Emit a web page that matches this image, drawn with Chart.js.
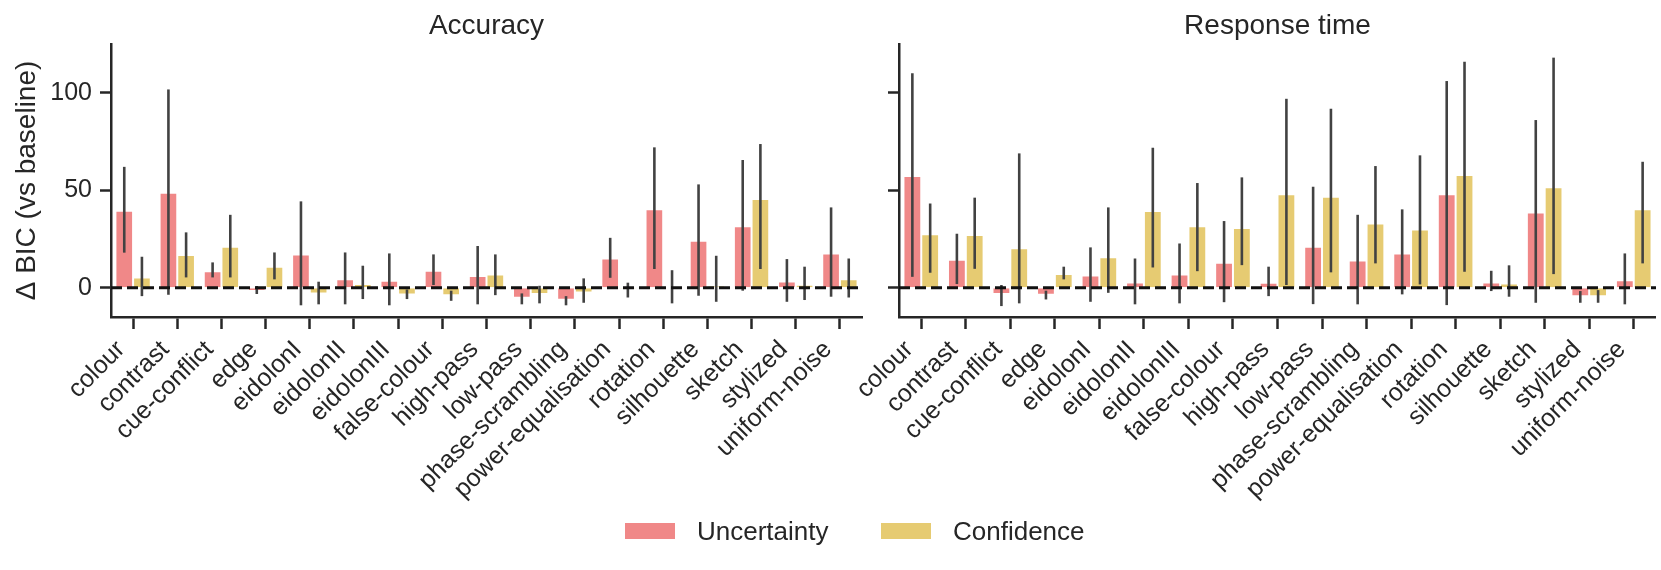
<!DOCTYPE html>
<html>
<head>
<meta charset="utf-8">
<script src="https://cdn.jsdelivr.net/npm/chart.js@4.4.1/dist/chart.umd.min.js"></script>
<style>
  body { margin: 0; background: #fff; }
  #wrap { position: relative; width: 1661px; height: 570px; font-family: "Liberation Sans", Arial, sans-serif; color: #262626; }
  #acc-box { position: absolute; left: 0; top: 0; width: 880px; height: 570px; }
  #rt-box { position: absolute; left: 830px; top: 0; width: 831px; height: 570px; }
  .swatch { position: absolute; top: 523px; width: 50px; height: 16px; }
  .leg-text { position: absolute; top: 518px; font-size: 26px; line-height: 26px; white-space: nowrap; }
</style>
</head>
<body>
<div id="wrap">
  <div id="acc-box"><canvas id="acc"></canvas></div>
  <div id="rt-box"><canvas id="rt"></canvas></div>
  <div class="swatch" style="left:625px; background:#f08888;"></div>
  <div class="leg-text" style="left:697px;">Uncertainty</div>
  <div class="swatch" style="left:881px; background:#e6cb72;"></div>
  <div class="leg-text" style="left:953px;">Confidence</div>
</div>
<script>
// categories (same for both panels)
const categories = ['colour', 'contrast', 'cue-conflict', 'edge', 'eidolonI', 'eidolonII', 'eidolonIII',
    'false-colour', 'high-pass', 'low-pass', 'phase-scrambling', 'power-equalisation', 'rotation',
    'silhouette', 'sketch', 'stylized', 'uniform-noise'];

// Accuracy panel
const accUncertainty = [39.5, 48.7, 8.5, -1.7, 17.1, 4.3, 3.6, 8.7, 6, -5.1, -6.2, 15, 40.2, 24.1, 31.5, 3.2, 17.6];
const accUncertaintyCI = [[18, 62], [-3.6, 101.7], [5.3, 13], [-3.2, 0.9], [-9, 44.3], [-8.5, 18.1], [-9, 17.6],
    [1.4, 17.1], [-8.5, 21.4], [-8.5, -2.9], [-9, -4.3], [5.1, 25.6], [9.6, 72], [-4.1, 53], [-1.5, 65.5],
    [-7.2, 14.7], [-4.6, 41.2]];
const accConfidence = [5.3, 16.8, 21, 10.8, -2.9, 1.9, -3.4, -3.8, 6.8, -3.2, -2.4, -0.5, 0.3, 0.9, 45.5, 1.5, 4.4];
const accConfidenceCI = [[-4.3, 15.9], [5.3, 28.4], [5.3, 37.4], [4.3, 18.1], [-8.5, 3.1], [-5.8, 11.3], [-5.8, -0.9],
    [-6.7, -1.5], [-3.8, 17.1], [-8, 1], [-7.7, 4.8], [-5, 2.6], [-8, 9], [-7.2, 16.4], [9.6, 73.7],
    [-6.3, 10.8], [-5, 15]];

// Response time panel
const rtUncertainty = [57.3, 14.4, -3.2, -3.6, 6.3, 2.7, 6.8, 12.8, 2.6, 21, 14, 17.6, 48, 2.7, 38.6, -4.3, 3.9];
const rtUncertaintyCI = [[5.6, 110], [1.9, 27.7], [-9.4, 1.4], [-6, -1.5], [-7.2, 20.7], [-8.5, 15], [-8, 22.7],
    [-7.4, 34.2], [-4.3, 10.8], [-8.4, 51.8], [-8.5, 37.4], [-3.4, 40.2], [-8.9, 106], [-1.7, 8.7], [-7.7, 86],
    [-7.7, -1.7], [-8.5, 17.6]];
const rtConfidence = [27.4, 27, 20.2, 7, 15.7, 39.3, 31.6, 30.6, 48, 46.7, 33, 29.9, 57.8, 2.2, 51.5, -4.3, 40.3];
const rtConfidenceCI = [[7.7, 43.2], [9.7, 46.2], [-8, 68.9], [4.3, 10.8], [-2.6, 41.2], [10.4, 71.8], [8.5, 53.7],
    [11.6, 56.6], [1.4, 96.9], [7.9, 91.8], [12.5, 62.4], [1.7, 67.9], [8.2, 115.9], [-4.6, 11.5], [7, 118],
    [-7.7, -1.2], [12.5, 64.6]];

const yTicks = [0, 50, 100];
const FONT = '"Liberation Sans", Arial, sans-serif';
const INK = '#262626';

Chart.defaults.font.family = FONT;
Chart.defaults.color = INK;

// error bars, dashed zero line and panel title
const extras = {
    id: 'extras',
    afterDatasetsDraw(chart) {
        const ctx = chart.ctx;
        const y = chart.scales.y;
        const area = chart.chartArea;
        ctx.save();
        ctx.strokeStyle = '#424242';
        ctx.lineWidth = 2.6;
        chart.data.datasets.forEach((ds, i) => {
            chart.getDatasetMeta(i).data.forEach((bar, j) => {
                const ci = ds.ci[j];
                ctx.beginPath();
                ctx.moveTo(bar.x, y.getPixelForValue(ci[0]));
                ctx.lineTo(bar.x, y.getPixelForValue(ci[1]));
                ctx.stroke();
            });
        });
        // zero line
        const y0 = y.getPixelForValue(0);
        ctx.strokeStyle = '#111';
        ctx.lineWidth = 3;
        ctx.setLineDash([11, 5]);
        ctx.beginPath();
        ctx.moveTo(area.left, y0);
        ctx.lineTo(area.right, y0);
        ctx.stroke();
        ctx.restore();
    },
    afterDraw(chart, args, opts) {
        const ctx = chart.ctx;
        const area = chart.chartArea;
        ctx.save();
        ctx.font = '28px ' + FONT;
        ctx.fillStyle = INK;
        ctx.textAlign = 'center';
        ctx.textBaseline = 'alphabetic';
        ctx.fillText(opts.text, (area.left + area.right) / 2, 34);
        ctx.restore();
    }
};

function makePanel(id, title, uVals, uCI, cVals, cCI, showLabels, yWidth, padRight) {
    return new Chart(document.getElementById(id), {
        type: 'bar',
        data: {
            labels: categories,
            datasets: [
                { label: 'Uncertainty', data: uVals, ci: uCI, backgroundColor: '#f08888',
                  borderColor: '#ffffff', borderWidth: 1 },
                { label: 'Confidence', data: cVals, ci: cCI, backgroundColor: '#e6cb72',
                  borderColor: '#ffffff', borderWidth: 1 }
            ]
        },
        options: {
            responsive: true,
            maintainAspectRatio: false,
            animation: false,
            layout: { padding: { top: 44, right: padRight, bottom: 0, left: 0 } },
            datasets: { bar: { categoryPercentage: 0.8, barPercentage: 1.0 } },
            plugins: {
                legend: { display: false },
                tooltip: { enabled: false },
                extras: { text: title }
            },
            scales: {
                x: {
                    grid: { drawOnChartArea: false, offset: false, tickLength: 12, tickWidth: 2.5, tickColor: INK },
                    border: { display: true, width: 2.5, color: INK },
                    ticks: { autoSkip: false, minRotation: 45, maxRotation: 45, padding: 6, labelOffset: -12,
                             font: { size: 25 }, color: INK },
                    afterFit(scale) { scale.height = 253; }
                },
                y: {
                    min: -15,
                    max: 125,
                    afterBuildTicks(scale) { scale.ticks = yTicks.map(v => ({ value: v })); },
                    grid: { drawOnChartArea: false, tickLength: 11, tickWidth: 2.5, tickColor: INK },
                    border: { display: true, width: 2.5, color: INK },
                    ticks: { display: showLabels, padding: 8, font: { size: 25 }, color: INK },
                    title: { display: showLabels, text: 'Δ BIC (vs baseline)', font: { size: 28 },
                             color: INK, padding: { top: 10, bottom: 0 } },
                    afterFit(scale) { scale.width = yWidth; }
                }
            }
        },
        plugins: [extras]
    });
}

makePanel('acc', 'Accuracy', accUncertainty, accUncertaintyCI, accConfidence, accConfidenceCI, true, 111, 18);
makePanel('rt', 'Response time', rtUncertainty, rtUncertaintyCI, rtConfidence, rtConfidenceCI, false, 69, 2);
</script>
</body>
</html>
